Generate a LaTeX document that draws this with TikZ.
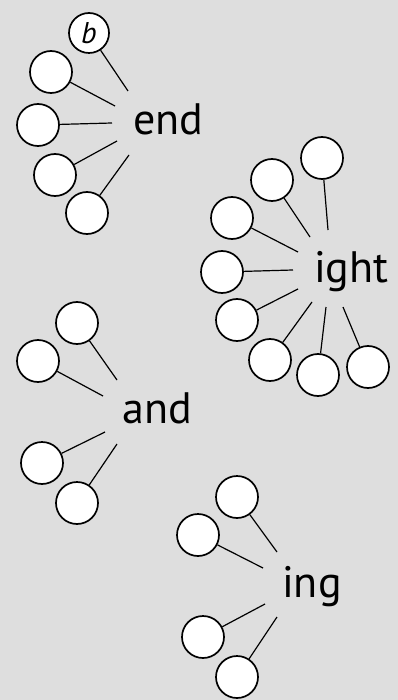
\documentclass[tikz,border=0pt]{standalone}
\usepackage{fontspec}
\setmainfont{PT Sans}
\definecolor{bggray}{RGB}{222,222,222}
\begin{document}
\begin{tikzpicture}[x=1pt,y=-1pt,
  bubble/.style={circle,draw=black,fill=white,line width=1.7pt,minimum size=42pt,inner sep=0pt},
  spoke/.style={black,line width=1.2pt},
  word/.style={anchor=base west,inner sep=0pt,font=\fontsize{44}{46}\selectfont}]
\fill[bggray] (0,0) rectangle (398,700);
\useasboundingbox (0,0) rectangle (398,700);
% ---- end ----
\node[word] (wend) at (133,135) {end};
\node[bubble,minimum size=40pt,font=\fontsize{30}{32}\selectfont\itshape] (e1) at (89,33) {b};
\node[bubble] (e2) at (51,72) {};
\node[bubble] (e3) at (38,125) {};
\node[bubble] (e4) at (55,175) {};
\node[bubble] (e5) at (87,213) {};
\coordinate (pe1) at (128,91);
\coordinate (pe2) at (115,106);
\coordinate (pe3) at (112,123);
\coordinate (pe4) at (117,141);
\coordinate (pe5) at (129,155);
\foreach \i in {1,...,5} \draw[spoke] (e\i) -- (pe\i);
% ---- ight ----
\node[word] (wight) at (314,282) {ight};
\node[bubble] (i1) at (322,158) {};
\node[bubble] (i2) at (272,180) {};
\node[bubble] (i3) at (232,218) {};
\node[bubble] (i4) at (222,272) {};
\node[bubble] (i5) at (237,320) {};
\node[bubble] (i6) at (270,360) {};
\node[bubble] (i7) at (318,375) {};
\node[bubble] (i8) at (368,367) {};
\coordinate (pi1) at (328,230);
\coordinate (pi2) at (310,237);
\coordinate (pi3) at (298,252);
\coordinate (pi4) at (293,270);
\coordinate (pi5) at (298,289);
\coordinate (pi6) at (312,302);
\coordinate (pi7) at (326,307);
\coordinate (pi8) at (343,307);
\foreach \i in {1,...,8} \draw[spoke] (i\i) -- (pi\i);
% ---- and ----
\node[word] (wand) at (122,423) {and};
\node[bubble] (a1) at (77,323) {};
\node[bubble] (a2) at (38,361) {};
\node[bubble] (a3) at (42,463) {};
\node[bubble] (a4) at (77,503) {};
\coordinate (pa1) at (117,380);
\coordinate (pa2) at (103,396);
\coordinate (pa3) at (105,432);
\coordinate (pa4) at (117,444);
\foreach \i in {1,...,4} \draw[spoke] (a\i) -- (pa\i);
% ---- ing ----
\node[word] (wing) at (282,597) {ing};
\node[bubble] (g1) at (237,497) {};
\node[bubble] (g2) at (198,535) {};
\node[bubble] (g3) at (203,637) {};
\node[bubble] (g4) at (237,677) {};
\coordinate (pg1) at (277,552);
\coordinate (pg2) at (263,568);
\coordinate (pg3) at (265,604);
\coordinate (pg4) at (277,617);
\foreach \i in {1,...,4} \draw[spoke] (g\i) -- (pg\i);
\end{tikzpicture}
\end{document}
